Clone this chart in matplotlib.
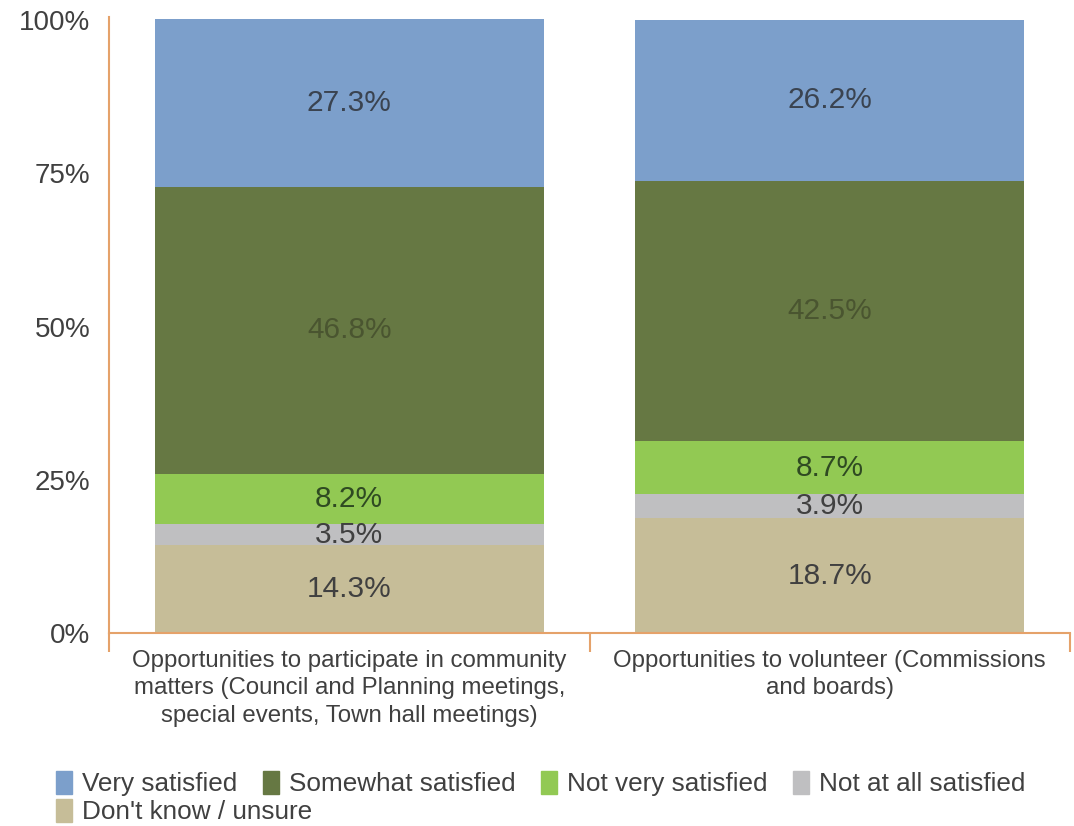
import matplotlib
matplotlib.use("Agg")
import matplotlib.pyplot as plt
from matplotlib.patches import Patch
import numpy as np

plt.rcParams['font.family'] = ['Liberation Sans', 'DejaVu Sans']

categories = [
    "Opportunities to participate in community\nmatters (Council and Planning meetings,\nspecial events, Town hall meetings)",
    "Opportunities to volunteer (Commissions\nand boards)",
]
series_names = ["Don't know / unsure", "Not at all satisfied", "Not very satisfied",
                "Somewhat satisfied", "Very satisfied"]
values = {
    "Don't know / unsure": [14.3, 18.7],
    "Not at all satisfied": [3.5, 3.9],
    "Not very satisfied": [8.2, 8.7],
    "Somewhat satisfied": [46.8, 42.5],
    "Very satisfied": [27.3, 26.2],
}
colors = {
    "Don't know / unsure": "#C6BD98",
    "Not at all satisfied": "#BFBFC1",
    "Not very satisfied": "#92C953",
    "Somewhat satisfied": "#667843",
    "Very satisfied": "#7C9FCB",
}
label_colors = {
    "Don't know / unsure": "#404040",
    "Not at all satisfied": "#404040",
    "Not very satisfied": "#2F4A22",
    "Somewhat satisfied": "#4A5530",
    "Very satisfied": "#3A4350",
}
yticks = [0, 25, 50, 75, 100]
ytick_labels = ["0%", "25%", "50%", "75%", "100%"]

axis_color = "#E5A26A"

fig = plt.figure(figsize=(10.74, 8.26), dpi=100)
ax = fig.add_axes([109/1074, 1-633/826, (1070-109)/1074, (633-17)/826])

x = np.arange(len(categories))
bottom = np.zeros(len(categories))
for name in series_names:
    vals = np.array(values[name])
    ax.bar(x, vals, bottom=bottom, width=0.81, color=colors[name],
           edgecolor='none', label=name, zorder=2)
    for xi, v, b in zip(x, vals, bottom):
        ax.text(xi, b + v/2, f"{v:.1f}%", ha='center', va='center',
                fontsize=21.5, color=label_colors[name], zorder=3)
    bottom += vals

ax.set_xlim(-0.5, len(categories) - 0.5)
ax.set_ylim(0, 100.5)
ax.set_yticks(yticks)
ax.set_yticklabels(ytick_labels, fontsize=20, color="#404040")
ax.tick_params(axis='y', length=0, pad=13.5)

ax.set_xticks(x)
ax.set_xticklabels(categories, fontsize=17.3, color="#404040", linespacing=1.32)
ax.tick_params(axis='x', which='major', length=0, pad=12)
ax.set_xticks(np.arange(-0.5, len(categories)), minor=True)
ax.tick_params(axis='x', which='minor', length=14, width=1.5, color=axis_color, direction='out')

for s in ['top', 'right']:
    ax.spines[s].set_visible(False)
for s in ['left', 'bottom']:
    ax.spines[s].set_color(axis_color)
    ax.spines[s].set_linewidth(1.5)

row1 = ["Very satisfied", "Somewhat satisfied", "Not very satisfied", "Not at all satisfied"]
row2 = ["Don't know / unsure"]
common = dict(frameon=False, fontsize=18.8, handlelength=0.63, handleheight=0.96,
              handletextpad=0.38, columnspacing=0.96, labelcolor="#404040",
              borderaxespad=0, borderpad=0)
fig.legend([Patch(color=colors[n]) for n in row1], row1, ncol=4,
           loc='upper left', bbox_to_anchor=(56/1074, 1-771/826), **common)
fig.legend([Patch(color=colors[n]) for n in row2], row2, ncol=1,
           loc='upper left', bbox_to_anchor=(56/1074, 1-799/826), **common)

fig.savefig("out.png", dpi=100)
